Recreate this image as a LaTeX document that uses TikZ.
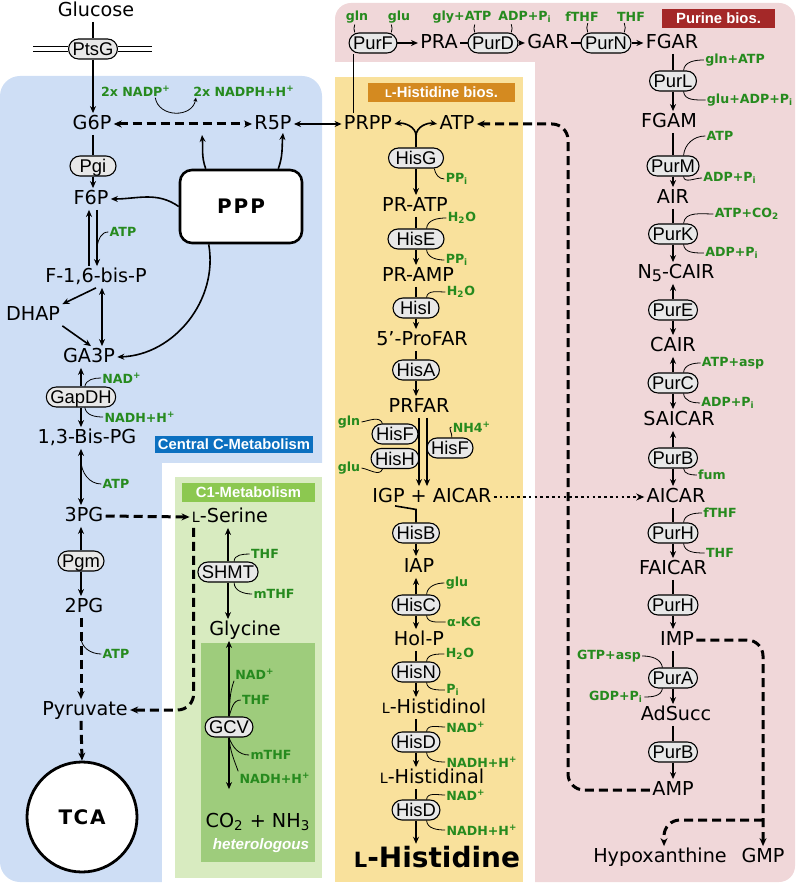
\documentclass[tikz,border=0pt]{standalone}
\usepackage{fontspec}
\setmainfont{DejaVu Sans}
\newfontfamily\enzfont{Liberation Sans}
\usepackage{tikz}
\usetikzlibrary{arrows.meta,calc}
\definecolor{bluebg}{RGB}{206,222,245}
\definecolor{pinkbg}{RGB}{240,215,217}
\definecolor{yellowbg}{RGB}{249,225,156}
\definecolor{c1bg}{RGB}{216,235,192}
\definecolor{gcvbg}{RGB}{158,204,124}
\definecolor{cblue}{RGB}{12,112,192}
\definecolor{c1green}{RGB}{140,200,80}
\definecolor{hisorange}{RGB}{212,138,32}
\definecolor{purred}{RGB}{164,40,40}
\definecolor{enzgray}{RGB}{232,232,232}
\definecolor{cofgreen}{RGB}{38,138,30}
\newcommand{\smL}[1]{{\fontsize{#1}{#1}\selectfont L}}

\begin{document}
\begin{tikzpicture}
    [
      x=0.5pt, y=0.5pt,
      met/.style = {font=\fontsize{9.6}{10}\selectfont, inner sep=1pt, text height=7pt, text depth=1.5pt},
      enz/.style = {draw, line width=0.55pt, fill=enzgray, rounded corners=5pt, font=\enzfont\fontsize{9.2}{10}\selectfont,
                    inner xsep=2pt, inner ysep=0pt, minimum height=10pt, minimum width=23pt, text height=6.6pt, text depth=0pt},
      cof/.style = {text=cofgreen, font=\bfseries\fontsize{6.3}{7}\selectfont, inner sep=0.5pt},
      sect/.style = {text=white, font=\enzfont\bfseries\fontsize{7.4}{8}\selectfont, inner sep=0pt},
      ln/.style = {line width=0.8pt},
      hk/.style = {line width=0.4pt},
      rx/.style = {line width=0.8pt, -{Stealth[length=3.5pt,width=3pt]}},
      rxb/.style = {line width=0.8pt, {Stealth[length=3.5pt,width=3pt]}-{Stealth[length=3.5pt,width=3pt]}},
      dsh/.style = {line width=1.5pt, dash pattern=on 4.5pt off 2.5pt, -{Stealth[length=4pt,width=3.5pt]}},
    ]

    \useasboundingbox (0,0) rectangle (797,-886);
    \fill[pinkbg, rounded corners=8pt] (335,-3) rectangle (795,-882);
    \fill[white] (332,-62) rectangle (535,-886);
    \fill[yellowbg] (335,-77) rectangle (523,-882);
    \fill[bluebg, rounded corners=10pt] (0,-76) rectangle (322,-882);
    \fill[white] (162,-463) rectangle (330,-886);
    \fill[c1bg] (175,-477) rectangle (322,-878);
    \fill[gcvbg] (201,-643) rectangle (315,-862);

    \node[sect, fill=cblue, minimum width=79pt, minimum height=8.5pt] (lbc) at (234,-444.5) {Central C-Metabolism};
    \node[sect, fill=c1green, minimum width=66.5pt, minimum height=9.5pt] (lb1) at (248.5,-492.5) {C1-Metabolism};
    \node[sect, fill=hisorange, minimum width=73.5pt, minimum height=9.5pt] (lbh) at (441.5,-92.5) {\smL{5.6}-Histidine bios.};
    \node[sect, fill=purred, minimum width=56.5pt, minimum height=9.5pt] (lbp) at (718.5,-18.5) {Purine bios.};

    % central metabolism
    \node[met] (glc) at (96,-11) {Glucose};
    \node[enz, minimum width=21.5pt] (ptsg) at (93,-49) {PtsG};
    \coordinate (meml) at (33,-49);
    \coordinate (memr) at (152,-49);
    \node[met] (g6p) at (92,-124) {G6P};
    \node[enz] (pgi) at (93,-166) {Pgi};
    \node[met] (f6p) at (91,-199) {F6P};
    \node[met] (fbp) at (96,-277) {F-1,6-bis-P};
    \node[met] (dhap) at (33,-315) {DHAP};
    \node[met] (ga3p) at (89,-357) {GA3P};
    \node[enz] (gapdh) at (81,-397) {GapDH};
    \node[met] (bpg) at (87,-438) {1,3-Bis-PG};
    \node[met] (pg3) at (84,-516) {3PG};
    \node[enz] (pgm) at (81,-561) {Pgm};
    \node[met] (pg2) at (84,-607) {2PG};
    \node[met] (pyr) at (85,-710) {Pyruvate};
    \node[draw, circle, line width=1.4pt, fill=white, minimum size=55pt, font=\bfseries\fontsize{10}{10}\selectfont] (tca) at (82,-817) {T\kern0.8pt C\kern0.8pt A};
    \node[met] (r5p) at (273,-124) {R5P};
    \node[draw, line width=1.3pt, rounded corners=6pt, fill=white, minimum width=61pt, minimum height=36.5pt,
          font=\bfseries\fontsize{10}{10}\selectfont] (ppp) at (241,-206.5) {P\kern1pt P\kern1pt P};
    \coordinate (upa) at (202,-135);
    \coordinate (upb) at (283,-133);

    \node[cof] (nadp) at (136,-91) {2x NADP\textsuperscript{+}};
    \node[cof] (nadph) at (244,-91) {2x NADPH+H\textsuperscript{+}};
    \node[cof] (atp1) at (123,-232) {ATP};
    \node[cof] (nad1) at (122,-378) {NAD\textsuperscript{+}};
    \node[cof] (nadh1) at (140,-417) {NADH+H\textsuperscript{+}};
    \node[cof] (atp2) at (116,-484) {ATP};
    \node[cof] (atp3) at (116,-654) {ATP};

    \draw[line width=0.5pt, double distance=2pt] (meml) -- (ptsg.west) (ptsg.east) -- (memr);
    \draw[ln] (ptsg.north |- glc.south) -- (ptsg.north);
    \draw[rx] (ptsg.south) -- (ptsg.south |- g6p.north);
    \draw[ln] (pgi.north |- g6p.south) -- (pgi.north);
    \draw[rx] (pgi.south) -- (pgi.south |- f6p.north);
    \draw[dsh, {Stealth[length=4pt,width=3.5pt]}-{Stealth[length=4pt,width=3.5pt]}] (g6p.east) -- (r5p.west);
    \draw[hk, -{Stealth[length=2pt,width=2pt]}] ($(nadp.south east)+(-17,0)$) to[out=-80,in=-100, looseness=1.3] ($(nadph.south west)+(4,0)$);
    \draw[rx] ($(ppp.north west)+(27,0)$) to[out=110,in=-85] (upa);
    \draw[rx] ($(ppp.north east)+(-25,0)$) to[out=70,in=-95] (upb);
    \draw[rx] (ppp.west) to[out=145,in=0] (f6p.east);
    \draw[rx] ($(ppp.south west)+(30,0)$) to[out=-80,in=2] (ga3p.east);
    \coordinate (fl1) at ($(f6p.south)+(-2,0)$);
    \coordinate (fl2) at ($(fbp.north)+(-7,0)$);
    \coordinate (fr1) at ($(f6p.south)+(6,0)$);
    \coordinate (fr2) at ($(fbp.north)+(1,0)$);
    \draw[rx] (fl2) -- (fl1);
    \draw[rx] (fr1) -- (fr2);
    \draw[hk] ($(fr1)!0.65!(fr2)$) to[out=80,in=180] (atp1.west);
    \draw[rx] (fbp.south) -- (dhap.north east);
    \draw[rx] (dhap.south east) -- ($(ga3p.north)+(2,0)$);
    \draw[rxb] ($(fbp.south)+(6,0)$) -- ($(ga3p.north)+(13,0)$);
    \draw[rx] (gapdh.north) -- (gapdh.north |- ga3p.south);
    \draw[rx] (gapdh.south) -- (gapdh.south |- bpg.north);
    \draw[hk] (gapdh.70) to[out=80,in=180] (nad1.west);
    \draw[hk] (gapdh.-70) to[out=-80,in=180] (nadh1.west);
    \draw[rxb] (gapdh.south |- bpg.south) -- (gapdh.south |- pg3.north);
    \draw[hk] ($(gapdh.south |- bpg.south)!0.2!(gapdh.south |- pg3.north)$) to[out=-90,in=180] (atp2.west);
    \draw[rx] (pgm.north) -- (pgm.north |- pg3.south);
    \draw[rx] (pgm.south) -- (pgm.south |- pg2.north);
    \draw[dsh] (pgm.south |- pg2.south) -- (pgm.south |- pyr.north);
    \draw[hk] ($(pgm.south |- pg2.south)!0.24!(pgm.south |- pyr.north)$) to[out=-90,in=180] (atp3.west);
    \draw[dsh] (pgm.south |- pyr.south) -- (tca.north);

    % C1 metabolism
    \node[met] (ser) at (230,-517) {\smL{7.1}-Serine};
    \node[enz] (shmt) at (228,-572) {SHMT};
    \node[met] (gly) at (245,-630) {Glycine};
    \node[enz] (gcv) at (229,-727) {GCV};
    \node[met] (co2) at (258,-822) {CO\textsubscript{2} + NH\textsubscript{3}};
    \node[font=\enzfont\bfseries\itshape\fontsize{7.6}{8}\selectfont, text=white] (het) at (261,-846) {heterologous};
    \node[cof] (thf1) at (265,-554) {THF};
    \node[cof] (mthf1) at (274,-594) {mTHF};
    \node[cof] (nad3) at (255,-674) {NAD\textsuperscript{+}};
    \node[cof] (thf2) at (256,-700) {THF};
    \node[cof] (mthf2) at (271,-755) {mTHF};
    \node[cof] (nadh3) at (275,-778) {NADH+H\textsuperscript{+}};

    \draw[dsh] (pg3.east) -- (ser.west);
    \draw[dsh, rounded corners=8pt] ($(ser.south west)+(4,0)$) |- (pyr.east);
    \draw[rx] (shmt.north) -- (shmt.north |- ser.south);
    \draw[rx] (shmt.south) -- (shmt.south |- gly.north);
    \draw[hk] (shmt.60) to[out=90,in=180] (thf1.west);
    \draw[hk] (shmt.-60) to[out=-90,in=180] (mthf1.west);
    \draw[rx] (gcv.north) -- (gcv.north |- gly.south);
    \draw[rx] (gcv.south) -- ($(gcv.south |- co2.north)+(0,22)$);
    \draw[hk] (gcv.north) to[out=85,in=-110] (nad3.south west);
    \draw[hk] (gcv.north) to[out=70,in=180] (thf2.west);
    \draw[hk] (gcv.south) to[out=-70,in=180] (mthf2.west);
    \draw[hk] (gcv.south) to[out=-85,in=110] (nadh3.north west);

    % histidine
    \node[met] (prpp) at (368,-124) {PRPP};
    \node[met] (hatp) at (457,-124) {ATP};
    \coordinate (fork) at (416,-136);
    \node[enz, minimum width=27.5pt] (hisg) at (416,-158) {HisG};
    \node[met] (pratp) at (415,-206) {PR-ATP};
    \node[enz, minimum width=28pt] (hise) at (416,-239) {HisE};
    \node[met] (pramp) at (418,-276) {PR-AMP};
    \node[enz] (hisi) at (416,-308) {HisI};
    \node[met] (profar) at (422,-340) {5'-ProFAR};
    \node[enz] (hisa) at (416,-370) {HisA};
    \node[met] (prfar) at (419,-407) {PRFAR};
    \node[enz] (hisf) at (395,-434) {HisF};
    \node[enz] (hish) at (395,-458.5) {HisH};
    \node[enz] (hisf2) at (450,-448) {HisF};
    \node[met] (igp) at (432,-497) {IGP + AICAR};
    \node[enz] (hisb) at (416,-533) {HisB};
    \node[met] (iap) at (419,-567) {IAP};
    \node[enz] (hisc) at (416,-605) {HisC};
    \node[met] (holp) at (419,-640) {Hol-P};
    \node[enz] (hisn) at (416,-672) {HisN};
    \node[met] (hol) at (434,-708) {\smL{7.1}-Histidinol};
    \node[enz] (hisd) at (416,-742) {HisD};
    \node[met] (hal) at (432,-778) {\smL{7.1}-Histidinal};
    \node[enz] (hisd2) at (416,-810) {HisD};
    \node[font=\bfseries\fontsize{14}{14}\selectfont, inner sep=1pt] (his) at (437,-857) {\smL{10.5}-Histidine};

    \node[cof] (ppi1) at (457,-179) {PP\textsubscript{i}};
    \node[cof] (h2o1) at (462,-218) {H\textsubscript{2}O};
    \node[cof] (ppi2) at (457,-260) {PP\textsubscript{i}};
    \node[cof] (h2o2) at (461,-292) {H\textsubscript{2}O};
    \node[cof] (gln1) at (349,-422) {gln};
    \node[cof] (glu1) at (349,-468) {glu};
    \node[cof] (nh4) at (472,-427) {NH4\textsuperscript{+}};
    \node[cof] (glu2) at (457,-583) {glu};
    \node[cof] (akg) at (464,-622) {α-KG};
    \node[cof] (h2o3) at (460,-654) {H\textsubscript{2}O};
    \node[cof] (pi1) at (453,-690) {P\textsubscript{i}};
    \node[cof] (nad4) at (466,-727) {NAD\textsuperscript{+}};
    \node[cof] (nadh4) at (482,-762) {NADH+H\textsuperscript{+}};
    \node[cof] (nad5) at (466,-795) {NAD\textsuperscript{+}};
    \node[cof] (nadh5) at (482,-830) {NADH+H\textsuperscript{+}};

    \draw[rxb] (r5p.east) -- (prpp.west);
    \draw[ln] (hisg.north) -- (fork);
    \draw[rx] (fork) to[out=90,in=10] (prpp.east);
    \draw[rx] (fork) to[out=90,in=170] (hatp.west);
    \draw[rx] (hisg.south) -- (hisg.south |- pratp.north);
    \draw[hk] (hisg.-30) to[out=-80,in=180] (ppi1.west);
    \draw[ln] (hise.north |- pratp.south) -- (hise.north);
    \draw[rx] (hise.south) -- (hise.south |- pramp.north);
    \draw[hk] (hise.45) to[out=85,in=180] (h2o1.west);
    \draw[hk] (hise.-45) to[out=-85,in=180] (ppi2.west);
    \draw[ln] (hisi.north |- pramp.south) -- (hisi.north);
    \draw[rx] (hisi.south) -- (hisi.south |- profar.north);
    \draw[hk] (hisi.45) to[out=85,in=180] (h2o2.west);
    \draw[ln] (hisa.north |- profar.south) -- (hisa.north);
    \draw[rx] (hisa.south) -- (hisa.south |- prfar.north);
    \draw[rx] (prfar.south) -- (prfar.south |- igp.north);
    \draw[rx] ($(prfar.south)+(8,0)$) -- ($(prfar.south |- igp.north)+(8,0)$);
    \draw[hk] (gln1.east) to[out=10,in=110] (hisf.140);
    \draw[hk] (glu1.east) to[out=-10,in=-110] (hish.-140);
    \draw[hk] (hisf2.80) to[out=80,in=180] (nh4.west);
    \draw[ln] ($(igp.south west)+(25,2)$) -- ($(hisb.north)+(0,13)$) -- (hisb.north);
    \draw[rx] (hisb.south) -- (hisb.south |- iap.north);
    \draw[rx] (hisc.north) -- (hisc.north |- iap.south);
    \draw[rx] (hisc.south) -- (hisc.south |- holp.north);
    \draw[hk] (hisc.45) to[out=85,in=180] (glu2.west);
    \draw[hk] (hisc.-45) to[out=-85,in=180] (akg.west);
    \draw[ln] (hisn.north |- holp.south) -- (hisn.north);
    \draw[rx] (hisn.south) -- (hisn.south |- hol.north);
    \draw[hk] (hisn.45) to[out=85,in=180] (h2o3.west);
    \draw[hk] (hisn.-45) to[out=-85,in=180] (pi1.west);
    \draw[ln] (hisd.north |- hol.south) -- (hisd.north);
    \draw[rx] (hisd.south) -- (hisd.south |- hal.north);
    \draw[hk] (hisd.45) to[out=85,in=180] (nad4.west);
    \draw[hk] (hisd.-45) to[out=-85,in=180] (nadh4.west);
    \draw[ln] (hisd2.north |- hal.south) -- (hisd2.north);
    \draw[rx] (hisd2.south) -- (hisd2.south |- his.north);
    \draw[hk] (hisd2.45) to[out=85,in=180] (nad5.west);
    \draw[hk] (hisd2.-45) to[out=-85,in=180] (nadh5.west);

    % purine
    \node[enz, minimum width=22pt] (purf) at (373,-43) {PurF};
    \node[met] (pra) at (439,-43) {PRA};
    \node[enz, minimum width=22pt] (purd) at (493,-43) {PurD};
    \node[met] (gar) at (548,-43) {GAR};
    \node[enz, minimum width=22pt] (purn) at (606,-43) {PurN};
    \node[met] (fgar) at (672,-43) {FGAR};
    \node[cof] (gln2) at (357,-17) {gln};
    \node[cof] (glu3) at (399,-17) {glu};
    \node[cof] (glyatp) at (462,-17) {gly+ATP};
    \node[cof] (adppi1) at (525,-17) {ADP+P\textsubscript{i}};
    \node[cof] (fthf1) at (582,-17) {fTHF};
    \node[cof] (thf3) at (631,-17) {THF};

    \node[enz] (purl) at (673,-81) {PurL};
    \node[met] (fgam) at (669,-122) {FGAM};
    \node[enz] (purm) at (673,-166) {PurM};
    \node[met] (air) at (673,-198) {AIR};
    \node[enz] (purk) at (673,-234) {PurK};
    \node[met] (n5cair) at (676,-273) {N\raisebox{-1.5pt}{\fontsize{8}{8}\selectfont 5}-CAIR};
    \node[enz] (pure) at (673,-310) {PurE};
    \node[met] (cair) at (673,-346) {CAIR};
    \node[enz] (purc) at (673,-383) {PurC};
    \node[met] (saicar) at (679,-420) {SAICAR};
    \node[enz] (purb) at (673,-458) {PurB};
    \node[met] (aicar) at (676,-497) {AICAR};
    \node[enz] (purh) at (673,-533) {PurH};
    \node[met] (faicar) at (673,-569) {FAICAR};
    \node[enz] (purh2) at (673,-605) {PurH};
    \node[met] (imp) at (677,-640) {IMP};
    \node[enz] (pura) at (673,-678) {PurA};
    \node[met] (adsucc) at (676,-715) {AdSucc};
    \node[enz] (purb2) at (673,-752) {PurB};
    \node[met] (amp) at (673,-790) {AMP};
    \node[met] (hypo) at (660,-857) {Hypoxanthine};
    \node[met] (gmp) at (763,-857) {GMP};
    \coordinate (ampup) at (568,-124);
    \coordinate (brx) at (763,-820);

    \node[cof] (glnatp) at (735,-60) {gln+ATP};
    \node[cof] (gluadp) at (750,-100) {glu+ADP+P\textsubscript{i}};
    \node[cof] (atp4) at (720,-136) {ATP};
    \node[cof] (adppi2) at (730,-178) {ADP+P\textsubscript{i}};
    \node[cof] (atpco2) at (747,-214) {ATP+CO\textsubscript{2}};
    \node[cof] (adppi3) at (732,-253) {ADP+P\textsubscript{i}};
    \node[cof] (atpasp) at (733,-363) {ATP+asp};
    \node[cof] (adppi4) at (728,-403) {ADP+P\textsubscript{i}};
    \node[cof] (fum) at (712,-475) {fum};
    \node[cof] (fthf2) at (720,-513) {fTHF};
    \node[cof] (thf4) at (720,-553) {THF};
    \node[cof] (gtpasp) at (609,-656) {GTP+asp};
    \node[cof] (gdppi) at (616,-697) {GDP+P\textsubscript{i}};

    \path ($(purf.south west)+(5,0)$) coordinate (pf);
    \draw[ln] (pf |- prpp.north) -- (pf);
    \draw[rx] (purf.east) -- (pra.west);
    \draw[ln] (pra.east) -- (purd.west);
    \draw[rx] (purd.east) -- (gar.west);
    \draw[ln] (gar.east) -- (purn.west);
    \draw[rx] (purn.east) -- (fgar.west);
    \draw[hk] (purf.150 |- gln2.south) to[bend right=20] (purf.150);
    \draw[hk] (purf.30 |- glu3.south) to[bend left=20] (purf.30);
    \draw[hk] (purd.150 |- glyatp.south) to[bend right=20] (purd.150);
    \draw[hk] (purd.30 |- adppi1.south) to[bend left=20] (purd.30);
    \draw[hk] (purn.150 |- fthf1.south) to[bend right=20] (purn.150);
    \draw[hk] (purn.30 |- thf3.south) to[bend left=20] (purn.30);

    \draw[ln] (purl.north |- fgar.south) -- (purl.north);
    \draw[rx] (purl.south) -- (purl.south |- fgam.north);
    \draw[hk] (purl.45) to[out=85,in=180] (glnatp.west);
    \draw[hk] (purl.-45) to[out=-85,in=180] (gluadp.west);
    \draw[ln] (purm.north |- fgam.south) -- (purm.north);
    \draw[rx] (purm.south) -- (purm.south |- air.north);
    \draw[hk] (purm.45) to[out=85,in=180] (atp4.west);
    \draw[hk] (purm.-45) to[out=-85,in=180] (adppi2.west);
    \draw[ln] (purk.north |- air.south) -- (purk.north);
    \draw[rx] (purk.south) -- (purk.south |- n5cair.north);
    \draw[hk] (purk.45) to[out=85,in=180] (atpco2.west);
    \draw[hk] (purk.-45) to[out=-85,in=180] (adppi3.west);
    \draw[rx] (pure.north) -- (pure.north |- n5cair.south);
    \draw[rx] (pure.south) -- (pure.south |- cair.north);
    \draw[rx] (purc.north) -- (purc.north |- cair.south);
    \draw[rx] (purc.south) -- (purc.south |- saicar.north);
    \draw[hk] (purc.45) to[out=85,in=180] (atpasp.west);
    \draw[hk] (purc.-45) to[out=-85,in=180] (adppi4.west);
    \draw[rx] (purb.north) -- (purb.north |- saicar.south);
    \draw[rx] (purb.south) -- (purb.south |- aicar.north);
    \draw[hk] (purb.-45) to[out=-85,in=180] (fum.west);
    \draw[ln] (purh.north |- aicar.south) -- (purh.north);
    \draw[rx] (purh.south) -- (purh.south |- faicar.north);
    \draw[hk] (purh.45) to[out=85,in=180] (fthf2.west);
    \draw[hk] (purh.-45) to[out=-85,in=180] (thf4.west);
    \draw[ln] (purh2.north |- faicar.south) -- (purh2.north);
    \draw[rx] (purh2.south) -- (purh2.south |- imp.north);
    \draw[ln] (pura.north |- imp.south) -- (pura.north);
    \draw[rx] (pura.south) -- (pura.south |- adsucc.north);
    \draw[hk] (gtpasp.east) to[out=0,in=100] (pura.135);
    \draw[hk] (gdppi.east) to[out=0,in=-100] (pura.-135);
    \draw[ln] (purb2.north |- adsucc.south) -- (purb2.north);
    \draw[rx] (purb2.south) -- (purb2.south |- amp.north);

    \draw[dsh, rounded corners=8pt] (amp.west) -| (ampup) -- (hatp.east);
    \draw[dsh, rounded corners=8pt] (imp.east) -| (gmp.north);
    \draw[dsh, rounded corners=8pt] (brx) -| ($(hypo.north)+(4,0)$);
    \draw[line width=1.3pt, dash pattern=on 1.3pt off 1.6pt, -{Stealth[length=4pt,width=3.5pt]}] (igp.east) -- (aicar.west);
\end{tikzpicture}
\end{document}
